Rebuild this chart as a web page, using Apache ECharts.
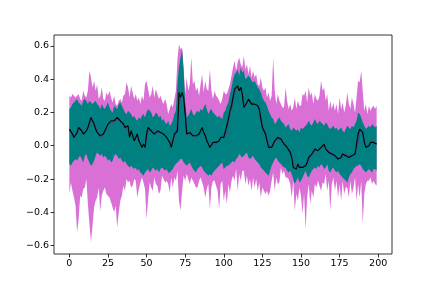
<!DOCTYPE html>
<html><head><meta charset="utf-8">
<script src="https://cdn.jsdelivr.net/npm/echarts@6/dist/echarts.min.js"></script>
<style>html,body{margin:0;padding:0;background:#fff}#c{width:436px;height:291px}</style>
</head><body><div id="c"></div>
<script>
// x positions (step index 0..199)
const steps = Array.from({length: 200}, (_, i) => i);
const xTicks = [0, 25, 50, 75, 100, 125, 150, 175, 200];
const yTicks = [-0.6, -0.4, -0.2, 0.0, 0.2, 0.4, 0.6];

// black mean line
const meanLine = [
0.10,0.09,0.07,0.05,0.06,0.08,0.11,0.10,0.09,0.07,
0.08,0.09,0.11,0.14,0.17,0.16,0.13,0.10,0.08,0.07,
0.06,0.05,0.07,0.09,0.11,0.13,0.14,0.15,0.14,0.15,
0.16,0.17,0.16,0.15,0.15,0.13,0.11,0.10,0.12,0.05,
0.09,0.06,0.03,0.05,0.07,0.03,0.01,-0.01,0.01,-0.01,
0.07,0.11,0.10,0.09,0.08,0.07,0.08,0.09,0.09,0.08,
0.07,0.07,0.06,0.05,0.04,0.02,-0.01,0.03,0.07,0.08,
0.09,0.32,0.29,0.32,0.29,0.19,0.07,0.08,0.08,0.07,
0.06,0.07,0.06,0.07,0.07,0.08,0.11,0.08,0.06,0.03,
0.01,-0.01,0.00,0.02,0.01,0.02,0.03,0.03,0.05,0.06,
0.05,0.06,0.12,0.16,0.21,0.24,0.29,0.34,0.33,0.36,
0.33,0.35,0.31,0.23,0.24,0.26,0.28,0.27,0.25,0.26,
0.25,0.25,0.24,0.22,0.16,0.11,0.09,0.07,0.03,-0.01,
-0.01,-0.01,0.01,0.03,0.04,0.05,0.05,0.04,0.03,0.01,
0.00,-0.01,-0.01,-0.04,-0.07,-0.13,-0.13,-0.14,-0.11,-0.13,
-0.14,-0.13,-0.12,-0.12,-0.10,-0.07,-0.06,-0.05,-0.04,-0.02,
-0.03,-0.03,-0.02,-0.01,0.00,0.01,-0.02,-0.03,-0.04,-0.04,
-0.05,-0.05,-0.06,-0.07,-0.08,-0.09,-0.07,-0.05,-0.05,-0.06,
-0.06,-0.07,-0.07,-0.06,-0.06,-0.05,-0.05,0.07,0.10,0.11,
0.08,0.02,-0.01,0.00,0.00,0.02,0.03,0.02,0.01,0.01];

// thin purple line
const purpleLine = [
0.09,0.10,0.08,0.06,0.05,0.07,0.09,0.11,0.09,0.08,
0.07,0.09,0.10,0.12,0.15,0.16,0.14,0.12,0.09,0.07,
0.07,0.05,0.06,0.08,0.10,0.12,0.13,0.14,0.14,0.14,
0.15,0.16,0.16,0.15,0.14,0.14,0.12,0.10,0.11,0.08,
0.07,0.07,0.04,0.04,0.06,0.04,0.02,0.00,0.00,0.00,
0.04,0.09,0.10,0.09,0.08,0.07,0.07,0.08,0.09,0.08,
0.07,0.07,0.06,0.05,0.04,0.03,0.01,0.01,0.05,0.07,
0.08,0.22,0.30,0.31,0.30,0.23,0.11,0.07,0.08,0.07,
0.06,0.06,0.06,0.06,0.07,0.07,0.09,0.09,0.07,0.04,
0.02,0.00,-0.01,0.01,0.01,0.01,0.02,0.03,0.04,0.05,
0.05,0.05,0.09,0.14,0.19,0.22,0.27,0.31,0.33,0.35,
0.34,0.34,0.32,0.26,0.24,0.25,0.27,0.27,0.26,0.26,
0.25,0.25,0.24,0.23,0.19,0.13,0.10,0.08,0.05,0.01,
-0.01,-0.01,0.00,0.02,0.03,0.04,0.05,0.04,0.03,0.02,
0.01,0.00,-0.01,-0.03,-0.06,-0.10,-0.12,-0.13,-0.12,-0.12,
-0.13,-0.13,-0.12,-0.12,-0.11,-0.09,-0.07,-0.06,-0.05,-0.03,
-0.03,-0.03,-0.02,-0.02,-0.01,0.00,-0.01,-0.02,-0.03,-0.04,
-0.04,-0.05,-0.05,-0.06,-0.07,-0.08,-0.08,-0.06,-0.05,-0.05,
-0.06,-0.06,-0.07,-0.06,-0.06,-0.05,-0.05,0.01,0.08,0.10,
0.09,0.04,0.00,-0.01,0.00,0.01,0.02,0.02,0.01,0.01];

// teal (inner) band
const innerUpper = [
0.22,0.23,0.25,0.26,0.27,0.28,0.26,0.25,0.24,0.27,
0.28,0.27,0.25,0.27,0.26,0.25,0.26,0.27,0.25,0.24,
0.22,0.25,0.23,0.22,0.24,0.26,0.23,0.21,0.20,0.24,
0.23,0.22,0.25,0.26,0.24,0.22,0.20,0.19,0.21,0.20,
0.19,0.17,0.18,0.16,0.15,0.17,0.16,0.18,0.19,0.17,
0.20,0.22,0.21,0.20,0.17,0.18,0.20,0.19,0.17,0.18,
0.15,0.16,0.14,0.13,0.15,0.12,0.13,0.15,0.19,0.21,
0.38,0.47,0.53,0.58,0.45,0.26,0.17,0.18,0.20,0.22,
0.19,0.18,0.20,0.21,0.20,0.22,0.21,0.23,0.25,0.22,
0.19,0.21,0.22,0.20,0.19,0.18,0.17,0.18,0.17,0.16,
0.20,0.21,0.24,0.26,0.31,0.35,0.40,0.43,0.44,0.46,
0.42,0.47,0.44,0.45,0.40,0.41,0.42,0.41,0.39,0.38,
0.39,0.37,0.35,0.34,0.32,0.29,0.27,0.26,0.24,0.21,
0.19,0.17,0.16,0.13,0.14,0.16,0.17,0.15,0.14,0.13,
0.11,0.12,0.13,0.10,0.09,0.11,0.10,0.09,0.10,0.08,
0.11,0.10,0.11,0.12,0.13,0.15,0.13,0.12,0.14,0.16,
0.14,0.13,0.15,0.14,0.13,0.12,0.14,0.13,0.11,0.10,
0.11,0.12,0.10,0.11,0.09,0.10,0.11,0.09,0.08,0.10,
0.12,0.11,0.10,0.12,0.11,0.13,0.15,0.20,0.19,0.17,
0.14,0.12,0.10,0.11,0.12,0.11,0.13,0.12,0.11,0.12];
const innerLower = [
-0.11,-0.12,-0.10,-0.09,-0.08,-0.09,-0.07,-0.06,-0.08,-0.10,
-0.06,-0.05,-0.08,-0.10,-0.12,-0.11,-0.09,-0.06,-0.04,-0.05,
-0.06,-0.05,-0.07,-0.06,-0.07,-0.09,-0.08,-0.10,-0.09,-0.06,
-0.05,-0.06,-0.08,-0.07,-0.09,-0.10,-0.09,-0.11,-0.12,-0.13,
-0.12,-0.13,-0.14,-0.13,-0.15,-0.14,-0.16,-0.17,-0.18,-0.16,
-0.15,-0.14,-0.16,-0.15,-0.13,-0.14,-0.15,-0.14,-0.16,-0.14,
-0.13,-0.14,-0.15,-0.14,-0.16,-0.16,-0.15,-0.14,-0.12,-0.11,
-0.10,-0.09,-0.08,-0.08,-0.10,-0.11,-0.12,-0.11,-0.10,-0.12,
-0.14,-0.15,-0.16,-0.14,-0.13,-0.12,-0.13,-0.15,-0.16,-0.17,
-0.18,-0.17,-0.18,-0.16,-0.15,-0.14,-0.13,-0.12,-0.11,-0.10,
-0.14,-0.13,-0.12,-0.12,-0.11,-0.10,-0.09,-0.10,-0.08,-0.07,
-0.05,-0.06,-0.07,-0.06,-0.05,-0.04,-0.07,-0.08,-0.07,-0.06,
-0.08,-0.09,-0.10,-0.11,-0.13,-0.14,-0.15,-0.16,-0.17,-0.18,
-0.15,-0.12,-0.10,-0.08,-0.07,-0.09,-0.10,-0.11,-0.12,-0.13,
-0.13,-0.15,-0.16,-0.15,-0.17,-0.20,-0.23,-0.21,-0.19,-0.22,
-0.21,-0.19,-0.17,-0.15,-0.18,-0.19,-0.17,-0.15,-0.14,-0.13,
-0.14,-0.12,-0.13,-0.11,-0.12,-0.14,-0.13,-0.11,-0.15,-0.16,
-0.14,-0.13,-0.15,-0.16,-0.15,-0.17,-0.18,-0.19,-0.20,-0.21,
-0.22,-0.19,-0.17,-0.16,-0.14,-0.13,-0.12,-0.12,-0.11,-0.12,
-0.14,-0.15,-0.16,-0.15,-0.14,-0.15,-0.16,-0.14,-0.14,-0.15];

// orchid (outer) band
const outerUpper = [
0.30,0.29,0.31,0.30,0.29,0.30,0.31,0.28,0.27,0.33,
0.30,0.29,0.33,0.45,0.41,0.35,0.39,0.33,0.37,0.28,
0.30,0.35,0.28,0.27,0.32,0.30,0.33,0.29,0.26,0.30,
0.25,0.24,0.27,0.28,0.26,0.30,0.31,0.38,0.35,0.29,
0.36,0.32,0.28,0.31,0.27,0.29,0.25,0.30,0.27,0.37,
0.39,0.34,0.29,0.31,0.36,0.29,0.34,0.31,0.28,0.30,
0.27,0.25,0.28,0.25,0.19,0.22,0.25,0.23,0.28,0.33,
0.52,0.61,0.58,0.59,0.47,0.31,0.41,0.33,0.37,0.53,
0.37,0.39,0.33,0.35,0.30,0.37,0.43,0.32,0.39,0.34,
0.33,0.46,0.33,0.28,0.33,0.30,0.29,0.27,0.25,0.28,
0.33,0.31,0.31,0.34,0.37,0.42,0.47,0.51,0.45,0.50,
0.53,0.49,0.47,0.54,0.46,0.49,0.43,0.48,0.41,0.45,
0.41,0.43,0.37,0.36,0.41,0.35,0.33,0.35,0.29,0.32,
0.27,0.30,0.53,0.33,0.25,0.31,0.27,0.25,0.23,0.23,
0.35,0.27,0.22,0.25,0.21,0.23,0.29,0.22,0.27,0.24,
0.24,0.31,0.30,0.33,0.26,0.35,0.30,0.32,0.25,0.31,
0.28,0.27,0.30,0.39,0.33,0.35,0.27,0.31,0.21,0.27,
0.22,0.26,0.21,0.25,0.19,0.29,0.22,0.26,0.20,0.24,
0.32,0.25,0.22,0.29,0.25,0.20,0.29,0.39,0.38,0.45,
0.33,0.21,0.25,0.19,0.24,0.21,0.23,0.24,0.22,0.24];
const outerLower = [
-0.29,-0.22,-0.27,-0.31,-0.36,-0.52,-0.44,-0.30,-0.31,-0.26,
-0.25,-0.20,-0.35,-0.47,-0.58,-0.48,-0.37,-0.33,-0.31,-0.25,
-0.39,-0.30,-0.27,-0.25,-0.29,-0.30,-0.31,-0.34,-0.37,-0.40,
-0.36,-0.49,-0.40,-0.33,-0.30,-0.24,-0.27,-0.20,-0.22,-0.21,
-0.25,-0.24,-0.20,-0.21,-0.31,-0.26,-0.22,-0.19,-0.22,-0.26,
-0.44,-0.32,-0.22,-0.25,-0.27,-0.19,-0.23,-0.24,-0.29,-0.27,
-0.18,-0.20,-0.22,-0.21,-0.23,-0.28,-0.19,-0.25,-0.19,-0.21,
-0.15,-0.33,-0.39,-0.27,-0.18,-0.21,-0.17,-0.20,-0.23,-0.19,
-0.21,-0.23,-0.25,-0.25,-0.21,-0.19,-0.22,-0.25,-0.31,-0.26,
-0.23,-0.38,-0.25,-0.21,-0.21,-0.24,-0.27,-0.38,-0.23,-0.21,
-0.33,-0.27,-0.35,-0.23,-0.28,-0.21,-0.18,-0.21,-0.14,-0.27,
-0.17,-0.21,-0.15,-0.15,-0.23,-0.18,-0.24,-0.20,-0.27,-0.19,
-0.25,-0.20,-0.27,-0.22,-0.31,-0.25,-0.27,-0.29,-0.27,-0.30,
-0.27,-0.21,-0.16,-0.27,-0.19,-0.23,-0.22,-0.13,-0.17,-0.15,
-0.19,-0.19,-0.20,-0.23,-0.31,-0.21,-0.39,-0.29,-0.33,-0.25,
-0.30,-0.41,-0.29,-0.50,-0.31,-0.23,-0.35,-0.27,-0.31,-0.23,
-0.25,-0.21,-0.24,-0.27,-0.22,-0.23,-0.17,-0.27,-0.21,-0.39,
-0.23,-0.19,-0.27,-0.21,-0.31,-0.23,-0.33,-0.21,-0.29,-0.25,
-0.25,-0.31,-0.21,-0.29,-0.25,-0.19,-0.33,-0.23,-0.31,-0.21,
-0.47,-0.29,-0.23,-0.21,-0.21,-0.19,-0.23,-0.21,-0.23,-0.24];

const pair = (arr) => arr.map((v, i) => [steps[i], v]);

function bandSeries(name, lower, upper, color, z) {
  return {
    name: name, type: 'custom', coordinateSystem: 'cartesian2d', silent: true, z: z, clip: true,
    data: [[steps[0], lower[0]]],
    encode: { x: 0, y: 1 },
    renderItem: function (params, api) {
      const pts = [];
      for (let i = 0; i < steps.length; i++) pts.push(api.coord([steps[i], upper[i]]));
      for (let i = steps.length - 1; i >= 0; i--) pts.push(api.coord([steps[i], lower[i]]));
      return { type: 'polygon', shape: { points: pts }, style: { fill: color, stroke: null } };
    }
  };
}

const font = 'DejaVu Sans';
const chart = echarts.init(document.getElementById('c'), null, { renderer: 'canvas' });
chart.setOption({
  animation: false,
  backgroundColor: '#ffffff',
  grid: { left: 54, right: 44, top: 35, bottom: 37, show: true, borderColor: '#000', borderWidth: 0.8, backgroundColor: 'transparent' },
  xAxis: {
    type: 'value', min: -9.95, max: 208.95,
    splitLine: { show: false },
    axisLine: { show: false, onZero: false },
    axisTick: { show: true, length: 3.5, lineStyle: { color: '#000', width: 0.8 }, customValues: xTicks },
    axisLabel: { color: '#000', fontFamily: font, fontSize: 9.5, margin: 5, customValues: xTicks,
      formatter: (v) => String(v) }
  },
  yAxis: {
    type: 'value', min: -0.65, max: 0.665,
    splitLine: { show: false },
    axisLine: { show: false, onZero: false },
    axisTick: { show: true, length: 3.5, lineStyle: { color: '#000', width: 0.8 }, customValues: yTicks },
    axisLabel: { color: '#000', fontFamily: font, fontSize: 9.5, margin: 5, customValues: yTicks,
      formatter: (v) => (v < -1e-9 ? '\u2212' : '') + Math.abs(v).toFixed(1) }
  },
  series: [
    bandSeries('outer', outerLower, outerUpper, '#da70d6', 1),
    bandSeries('inner', innerLower, innerUpper, '#008080', 2),
    { name: 'purple', type: 'line', data: pair(purpleLine), symbol: 'none', silent: true, z: 3,
      lineStyle: { color: '#5c3a8e', width: 0.9 } },
    { name: 'mean', type: 'line', data: pair(meanLine), symbol: 'none', silent: true, z: 4,
      lineStyle: { color: '#000000', width: 1.1 } }
  ]
});
</script>
</body></html>
